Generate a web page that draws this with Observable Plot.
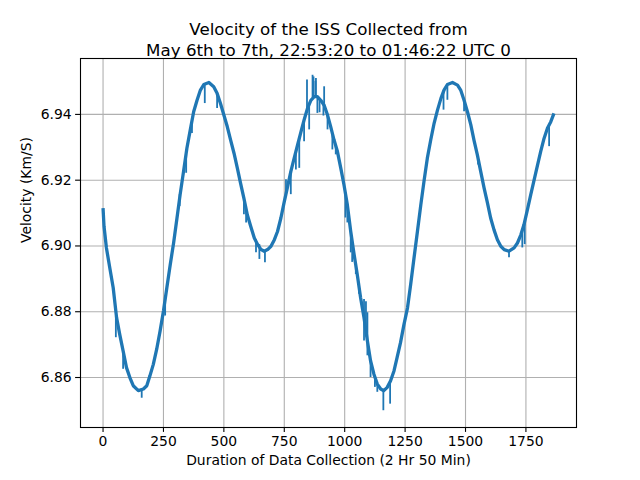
<!DOCTYPE html>
<html><head><meta charset="utf-8">
<script src="https://cdn.jsdelivr.net/npm/d3@7"></script>
<script src="https://cdn.jsdelivr.net/npm/@observablehq/plot@0.6"></script>
<style>body{margin:0;background:#fff;} #chart svg{display:block;}</style>
</head><body><div id="chart"></div>
<script>
const seconds = [0,4,14,28,42,56,69,83,97,111,125,146,167,181,194,208,222,236,250,264,278,292,306,319,333,347,361,375,389,403,417,438,458,472,486,500,514,528,542,556,569,583,597,611,626,640,654,667,681,695,709,722,736,750,764,777,791,805,819,832,846,860,874,887,901,915,929,942,956,970,984,997,1011,1025,1039,1052,1066,1080,1094,1107,1121,1135,1149,1162,1176,1190,1204,1217,1231,1245,1260,1273,1287,1301,1315,1329,1342,1356,1370,1384,1398,1411,1425,1446,1467,1480,1494,1508,1522,1535,1549,1563,1577,1591,1604,1618,1632,1646,1660,1680,1701,1715,1729,1742,1756,1770,1784,1798,1811,1825,1839,1853,1866];
const velocity = [6.9115,6.9060,6.8994,6.8933,6.8873,6.8782,6.8731,6.8681,6.8630,6.8600,6.8575,6.8560,6.8565,6.8575,6.8605,6.8640,6.8686,6.8741,6.8802,6.8873,6.8943,6.9009,6.9085,6.9156,6.9226,6.9297,6.9353,6.9408,6.9443,6.9474,6.9491,6.9497,6.9484,6.9464,6.9433,6.9398,6.9363,6.9322,6.9282,6.9236,6.9191,6.9145,6.9095,6.9060,6.9024,6.9004,6.8989,6.8984,6.8989,6.8999,6.9019,6.9044,6.9085,6.9135,6.9181,6.9226,6.9267,6.9307,6.9347,6.9383,6.9418,6.9443,6.9454,6.9454,6.9443,6.9428,6.9398,6.9363,6.9322,6.9287,6.9236,6.9186,6.9125,6.9044,6.8974,6.8913,6.8842,6.8782,6.8711,6.8651,6.8610,6.8580,6.8565,6.8560,6.8570,6.8590,6.8620,6.8661,6.8706,6.8760,6.8812,6.8883,6.8964,6.9044,6.9125,6.9201,6.9267,6.9322,6.9373,6.9413,6.9448,6.9474,6.9491,6.9497,6.9489,6.9474,6.9443,6.9408,6.9368,6.9322,6.9277,6.9226,6.9176,6.9130,6.9085,6.9049,6.9019,6.8999,6.8989,6.8984,6.8994,6.9009,6.9034,6.9065,6.9110,6.9156,6.9201,6.9246,6.9287,6.9327,6.9358,6.9378,6.9403];

// short noise spikes: time, value of the line there, tip value of the spike
const spikeSeconds = [53,83,160,257,317,344,368,421,472,583,592,633,647,670,757,777,798,812,832,844,853,867,871,879,881,887,896,912,915,929,949,963,1003,1011,1025,1031,1046,1059,1080,1088,1094,1107,1125,1135,1160,1188,1409,1425,1494,1552,1680,1735,1745,1846];
const spikeBase = [6.8787,6.8681,6.8565,6.8837,6.9156,6.9277,6.9378,6.9491,6.9464,6.9145,6.9110,6.9019,6.9004,6.8984,6.9156,6.9226,6.9287,6.9327,6.9383,6.9418,6.9433,6.9451,6.9454,6.9454,6.9454,6.9454,6.9448,6.9430,6.9428,6.9398,6.9342,6.9307,6.9160,6.9125,6.9044,6.9010,6.8943,6.8873,6.8837,6.8740,6.8797,6.8651,6.8600,6.8580,6.8560,6.8590,6.9471,6.9491,6.9443,6.9272,6.8984,6.9044,6.9075,6.9368];
const spikeTip = [6.8721,6.8625,6.8537,6.8787,6.9120,6.9221,6.9342,6.9433,6.9418,6.9095,6.9070,6.8979,6.8959,6.8949,6.9201,6.9156,6.9231,6.9236,6.9317,6.9505,6.9353,6.9519,6.9514,6.9500,6.9509,6.9403,6.9405,6.9395,6.9484,6.9353,6.9292,6.9277,6.9085,6.9070,6.8979,6.8950,6.8913,6.8853,6.8711,6.8830,6.8666,6.8600,6.8570,6.8555,6.8499,6.8519,6.9413,6.9443,6.9408,6.9246,6.8964,6.8994,6.9004,6.9302];

const xTicks = [0,250,500,750,1000,1250,1500,1750];
const yTicks = [6.86,6.88,6.90,6.92,6.94];
const titleLines = ["Velocity of the ISS Collected from", "May 6th to 7th, 22:53:20 to 01:46:22 UTC 0"];
const xLabel = "Duration of Data Collection (2 Hr 50 Min)";
const yLabel = "Velocity (Km/S)";

const lineData = seconds.map((s, i) => ({s, v: velocity[i]}));
const spikes = spikeSeconds.map((s, i) => ({s, b: spikeBase[i], t: spikeTip[i]}));

const [xmin, xmax] = d3.extent(seconds);
const xpad = (xmax - xmin) * 0.05;
const allV = velocity.concat(spikeBase, spikeTip);
const [ymin, ymax] = d3.extent(allV);
const ypad = (ymax - ymin) * 0.05;

const blue = "#1f77b4";
const font = "DejaVu Sans, sans-serif";

const chart = Plot.plot({
  width: 640,
  height: 480,
  marginLeft: 80,
  marginRight: 64,
  marginTop: 58,
  marginBottom: 53,
  style: {fontFamily: font, fontSize: "13.9px", color: "#000", background: "#fff"},
  x: {domain: [xmin - xpad, xmax + xpad]},
  y: {domain: [ymin - ypad, ymax + ypad]},
  marks: [
    Plot.gridX(xTicks, {stroke: "#b0b0b0", strokeOpacity: 1, strokeWidth: 1.1}),
    Plot.gridY(yTicks, {stroke: "#b0b0b0", strokeOpacity: 1, strokeWidth: 1.1}),
    Plot.line(lineData, {x: "s", y: "v", stroke: blue, strokeWidth: 3.3, strokeLinejoin: "round", strokeLinecap: "butt"}),
    Plot.ruleX(spikes, {x: "s", y1: "b", y2: "t", stroke: blue, strokeWidth: 1.8}),
    Plot.frame({stroke: "#000", strokeWidth: 1.1}),
    Plot.axisX(xTicks, {tickSize: 4.9, tickPadding: 4, fontSize: 13.9, label: null, stroke: "#000", strokeWidth: 1.1, tickFormat: d => String(d)}),
    Plot.axisY(yTicks, {tickSize: 4.9, tickPadding: 4, fontSize: 13.9, label: null, stroke: "#000", strokeWidth: 1.1, tickFormat: d => d.toFixed(2)}),
    Plot.text([xLabel], {frameAnchor: "bottom", dy: 37, fontSize: 13.9, fill: "#000"}),
    Plot.text([yLabel], {frameAnchor: "left", dx: -54, rotate: -90, fontSize: 13.9, fill: "#000"}),
    Plot.text([titleLines[0]], {frameAnchor: "top", dy: -35, fontSize: 16.7, fill: "#000"}),
    Plot.text([titleLines[1]], {frameAnchor: "top", dy: -14.5, fontSize: 16.7, fill: "#000"})
  ]
});
document.getElementById("chart").appendChild(chart);
</script>
</body></html>
